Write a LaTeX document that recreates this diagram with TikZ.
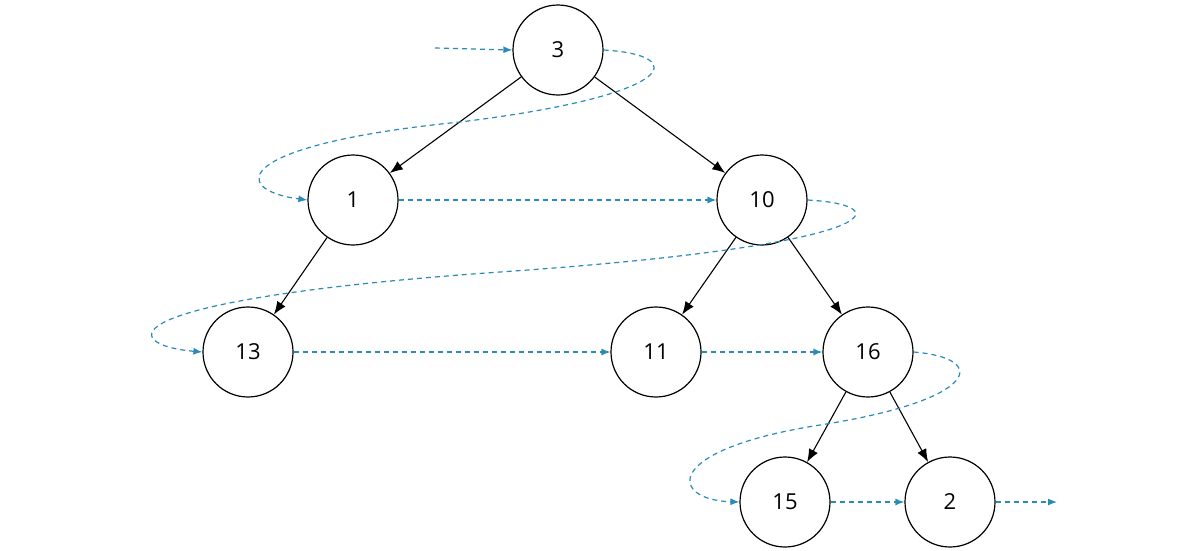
\documentclass[tikz,border=0pt]{standalone}
\usepackage{fontspec}
\setmainfont{Open Sans}
\usetikzlibrary{arrows.meta}
\definecolor{tb}{HTML}{2A8AB8}
\begin{document}
\begin{tikzpicture}[x=1pt,y=-1pt,
  nd/.style={circle,draw,line width=1.2pt,minimum size=90pt,inner sep=0pt,font=\fontsize{22pt}{24pt}\selectfont},
  ed/.style={line width=1.1pt,-{Latex[length=13pt,width=10pt]}},
  tr/.style={tb,line width=1.2pt,dash pattern=on 5pt off 4pt,-{Latex[length=9pt,width=7pt]}}]
\useasboundingbox (0,0) rectangle (1200,550);
\node[nd] (n3) at (558,50) {3};
\node[nd] (n1) at (353,200) {1};
\node[nd] (n10) at (762,200) {10};
\node[nd] (n13) at (248,352) {13};
\node[nd] (n11) at (656,352) {11};
\node[nd] (n16) at (868,352) {16};
\node[nd] (n15) at (785,502) {15};
\node[nd] (n2) at (950,502) {2};
\coordinate (s) at (435,48);
\coordinate (e) at (1057,502);
\draw[ed] (n3) -- (n1);
\draw[ed] (n3) -- (n10);
\draw[ed] (n1) -- (n13);
\draw[ed] (n10) -- (n11);
\draw[ed] (n10) -- (n16);
\draw[ed] (n16) -- (n15);
\draw[ed] (n16) -- (n2);
\draw[tr] (s) -- (n3.west);
\draw[tr] (n3.east) .. controls (690,55) and (680,95) .. (460,122) .. controls (230,145) and (230,190) .. (n1.west);
\draw[tr] (n1) -- (n10);
\draw[tr] (n10.east) .. controls (900,205) and (890,245) .. (500,272) .. controls (100,300) and (120,345) .. (n13.west);
\draw[tr] (n13) -- (n11);
\draw[tr] (n11) -- (n16);
\draw[tr] (n16.east) .. controls (990,358) and (980,400) .. (820,425) .. controls (660,450) and (670,500) .. (n15.west);
\draw[tr] (n15) -- (n2);
\draw[tr] (n2.east) -- (e);
\end{tikzpicture}
\end{document}
